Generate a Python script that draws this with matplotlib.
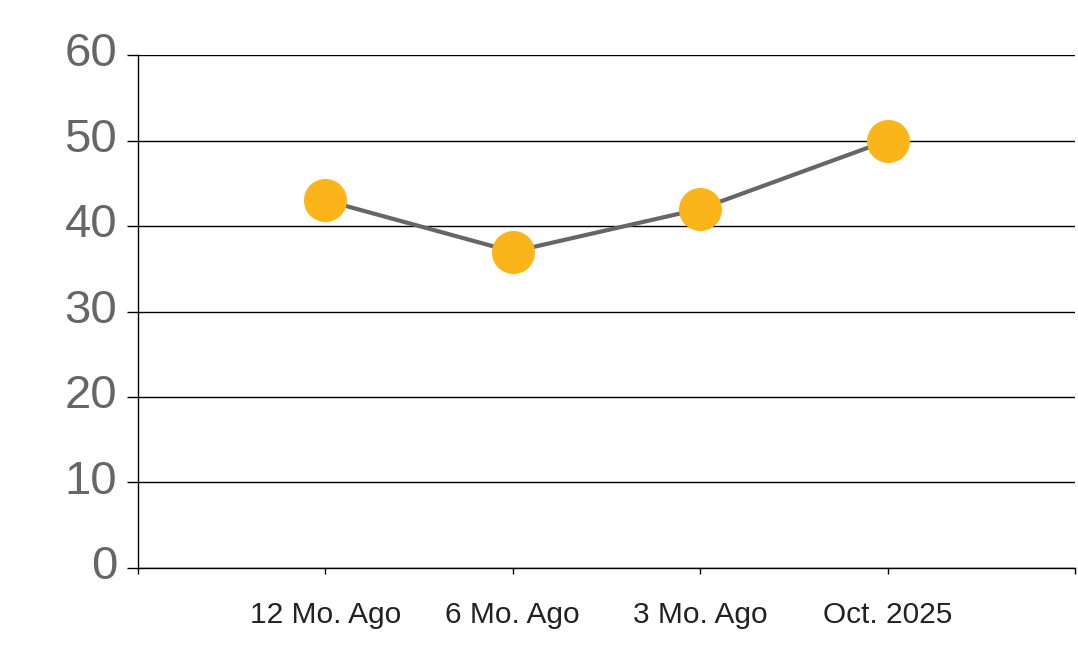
import matplotlib.pyplot as plt
import matplotlib.transforms as mtransforms

# data
categories = ["12 Mo. Ago", "6 Mo. Ago", "3 Mo. Ago", "Oct. 2025"]
values = [43, 37, 42, 50]
y_ticks = [0, 10, 20, 30, 40, 50, 60]

plt.rcParams['font.family'] = ['Liberation Sans', 'DejaVu Sans']

fig = plt.figure(figsize=(10.78, 6.63), dpi=100)
ax = fig.add_axes([0.128, 0.1433, 0.8692, 0.7737])

x = list(range(1, len(categories) + 1))
ax.plot(x, values, color='#666666', linewidth=3.0, zorder=3,
        marker='o', markersize=31, markerfacecolor='#FBB41A',
        markeredgecolor='#FBB41A', markeredgewidth=0)

ax.set_xlim(0, len(categories) + 1)
ax.set_ylim(0, 60)

# gridlines
for yv in y_ticks:
    ax.axhline(yv, color='black', linewidth=1.0, zorder=1)

ax.set_yticks(y_ticks)
ax.set_yticklabels([str(v) for v in y_ticks], fontsize=34, color='#666666')
ax.tick_params(axis='y', direction='out', length=8, width=1.0, pad=7)

# nudge y labels up a little
shift = mtransforms.ScaledTranslation(0, 4 / 72, fig.dpi_scale_trans)
for lab in ax.get_yticklabels():
    lab.set_transform(lab.get_transform() + shift)

ax.set_xticks(range(0, len(categories) + 2))
ax.set_xticklabels([""] + categories + [""], fontsize=21.5, color='#222222')
ax.tick_params(axis='x', direction='out', length=4.5, width=1.0, pad=19)

for side in ['top', 'right']:
    ax.spines[side].set_visible(False)
ax.spines['left'].set_linewidth(1.0)
ax.spines['bottom'].set_linewidth(1.0)

fig.savefig("out.png", dpi=100, facecolor='white')
